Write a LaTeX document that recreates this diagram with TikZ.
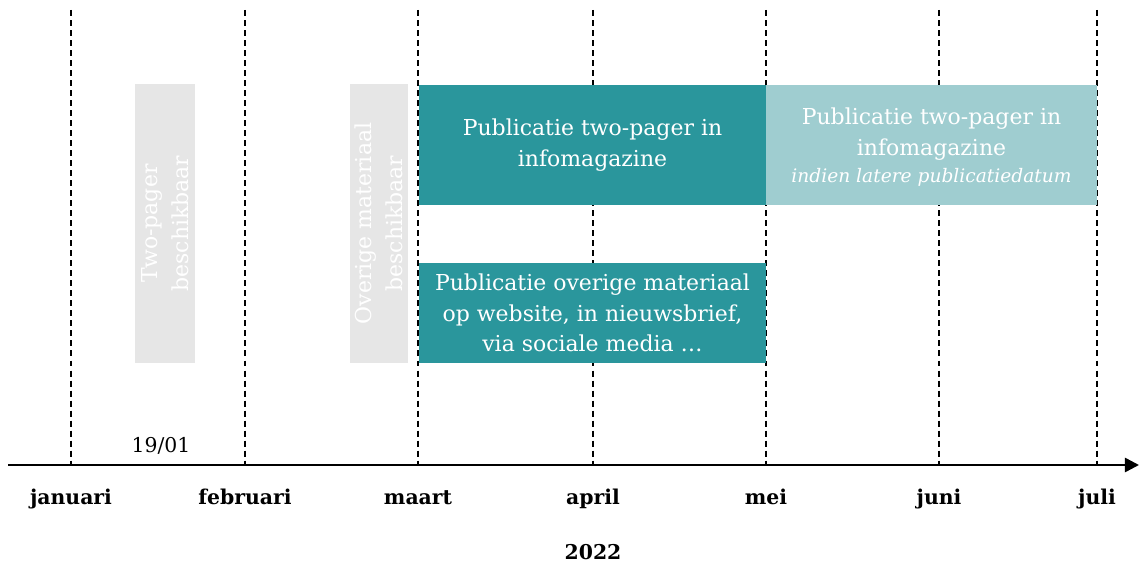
\documentclass[tikz,border=0pt]{standalone}
\usepackage{fontspec}
\setmainfont{DejaVu Serif}
\usetikzlibrary{arrows.meta}
\definecolor{donkerteal}{HTML}{2A969C}
\definecolor{lichtteal}{HTML}{9FCDD0}
\definecolor{lichtgrijs}{HTML}{E6E6E6}
\tikzset{
  grens/.style={line width=1.3pt,dash pattern=on 3.4pt off 2.3pt},
  blok/.style={fill=#1,text=white,inner sep=0pt,align=center,
    font=\fontsize{12.5}{17.5}\selectfont},
  klaar/.style={blok=lichtgrijs,rotate=90,minimum width=5.58cm,minimum height=1.2cm},
  maand/.style={font=\bfseries\fontsize{11.6}{13}\selectfont}
}
\begin{document}
\begin{tikzpicture}[x=0.02cm,y=-0.02cm]
\useasboundingbox (0,0) rectangle (1139,564);
% maandgrenzen
\foreach \naam/\x in {jan/71,feb/245,mrt/418,apr/593,mei/766,jun/939,jul/1097}{
  \coordinate (\naam-top) at (\x,10);
  \coordinate (\naam) at (\x,465);
  \draw[grens] (\naam-top)--(\naam);
}
\coordinate (start) at (8,465);
\coordinate (eind) at (1139,465);
\draw[line width=1.4pt,-{Triangle[length=8pt,width=8pt]}] (start)--(eind);
% blokken
\node[klaar] (tpklaar) at (165,223.5) {Two-pager\\beschikbaar};
\node[klaar,minimum height=1.16cm] (omklaar) at (379,223.5) {Overige materiaal\\beschikbaar};
\node[blok=donkerteal,minimum width=6.94cm,minimum height=2.4cm] (tp) at (592.5,145)
  {Publicatie two-pager in\\infomagazine};
\node[blok=lichtteal,minimum width=6.62cm,minimum height=2.4cm,text depth=0pt] (tplaat) at (931.5,145)
  {\rule{0pt}{7pt}Publicatie two-pager in\\infomagazine\\[-2pt]{\itshape\fontsize{10.6}{12}\selectfont indien latere publicatiedatum}};
\node[blok=donkerteal,minimum width=6.94cm,minimum height=2cm] (om) at (592.5,313)
  {Publicatie overige materiaal\\op website, in nieuwsbrief,\\via sociale media \dots};
% labels
\foreach \naam/\tekst in {jan/januari,feb/februari,mrt/maart,apr/april,mei/mei,jun/juni,jul/juli}
  \node[maand,anchor=base] (\naam-lbl) at ([yshift=-0.8cm]\naam) {\tekst};
\node[maand,anchor=base] (jaar) at ([yshift=-1.9cm]apr) {2022};
\node[font=\fontsize{11.6}{13}\selectfont,anchor=base] (datum) at (161,452) {19/01};
\end{tikzpicture}
\end{document}
